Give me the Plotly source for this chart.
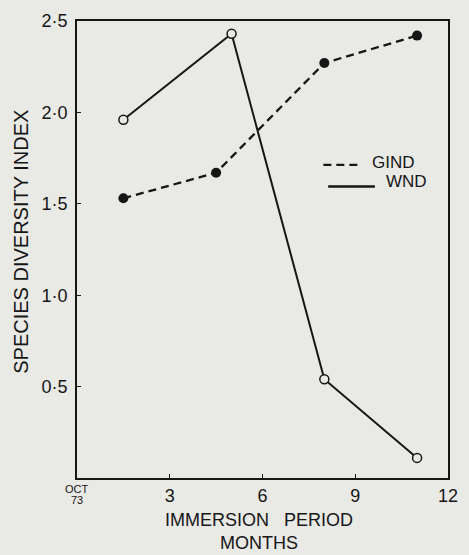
import plotly.graph_objects as go

# Immersion period (months after October 1973) and species diversity index
months_gind = [1.5, 4.5, 8, 11]
gind = [1.53, 1.67, 2.27, 2.42]

months_wnd = [1.5, 5, 8, 11]
wnd = [1.96, 2.43, 0.54, 0.11]

x_ticks = [0, 3, 6, 9, 12]
x_labels = ["", "3", "6", "9", "12"]
y_ticks = [0.5, 1.0, 1.5, 2.0, 2.5]
y_labels = ["0·5", "1·0", "1·5", "2·0", "2·5"]

INK = "#161616"
PAPER = "#e9e9e6"
FONT = "Liberation Sans, Arial, sans-serif"

fig = go.Figure()

fig.add_trace(go.Scatter(
    x=months_gind, y=gind, name="GIND", mode="lines+markers",
    line=dict(color=INK, width=2.3, dash="8px,5px"),
    marker=dict(symbol="circle", size=10, color=INK, line=dict(color=INK, width=0)),
))
fig.add_trace(go.Scatter(
    x=months_wnd, y=wnd, name="WND", mode="lines+markers",
    line=dict(color=INK, width=2),
    marker=dict(symbol="circle", size=9, color=PAPER, line=dict(color=INK, width=1.5)),
))

# Key drawn inside the plot area
fig.add_shape(type="line", xref="paper", yref="paper", x0=0.664, x1=0.769, y0=0.685, y1=0.685,
              line=dict(color=INK, width=2.3, dash="8px,5px"))
fig.add_annotation(xref="paper", yref="paper", x=0.79, y=0.690, xanchor="left", yanchor="middle",
                   text="GIND", showarrow=False, font=dict(family=FONT, size=17, color=INK))
fig.add_shape(type="line", xref="paper", yref="paper", x0=0.677, x1=0.803, y0=0.638, y1=0.638,
              line=dict(color=INK, width=2.4))
fig.add_annotation(xref="paper", yref="paper", x=0.828, y=0.648, xanchor="left", yanchor="middle",
                   text="WND", showarrow=False, font=dict(family=FONT, size=17, color=INK))

# Start-of-series label under the origin
fig.add_annotation(xref="x", yref="paper", x=0, y=-0.024, xanchor="center", yanchor="middle",
                   text="OCT", showarrow=False, font=dict(family=FONT, size=11, color=INK))
fig.add_annotation(xref="x", yref="paper", x=0, y=-0.048, xanchor="center", yanchor="middle",
                   text="73", showarrow=False, font=dict(family=FONT, size=11, color=INK))

# Axis titles
fig.add_annotation(xref="paper", yref="paper", x=0.49, y=-0.117, xanchor="center", yanchor="middle",
                   text="IMMERSION   PERIOD<br>MONTHS", showarrow=False,
                   font=dict(family=FONT, size=18, color=INK))
fig.add_annotation(xref="paper", yref="paper", x=-0.1496, y=0.518, xanchor="center", yanchor="middle",
                   text="SPECIES DIVERSITY INDEX", textangle=-90, showarrow=False,
                   font=dict(family=FONT, size=20, color=INK))

fig.update_layout(
    width=469, height=555,
    margin=dict(l=77, r=11, t=17, b=77),
    paper_bgcolor=PAPER, plot_bgcolor=PAPER,
    showlegend=False,
    font=dict(family=FONT, size=18, color=INK),
)
fig.update_xaxes(
    range=[0, 12], tickvals=x_ticks, ticktext=x_labels,
    showgrid=False, zeroline=False, showline=True, mirror=True,
    linecolor=INK, linewidth=1.6, ticks="inside", ticklen=4, tickcolor=INK,
    tickfont=dict(size=18), ticklabelstandoff=1,
)
fig.update_yaxes(
    range=[0, 2.5], tickvals=y_ticks, ticktext=y_labels,
    showgrid=False, zeroline=False, showline=True, mirror=True,
    linecolor=INK, linewidth=1.6, ticks="inside", ticklen=4, tickcolor=INK,
    tickfont=dict(size=18), ticklabelstandoff=4,
)

fig.write_html("out.html")
